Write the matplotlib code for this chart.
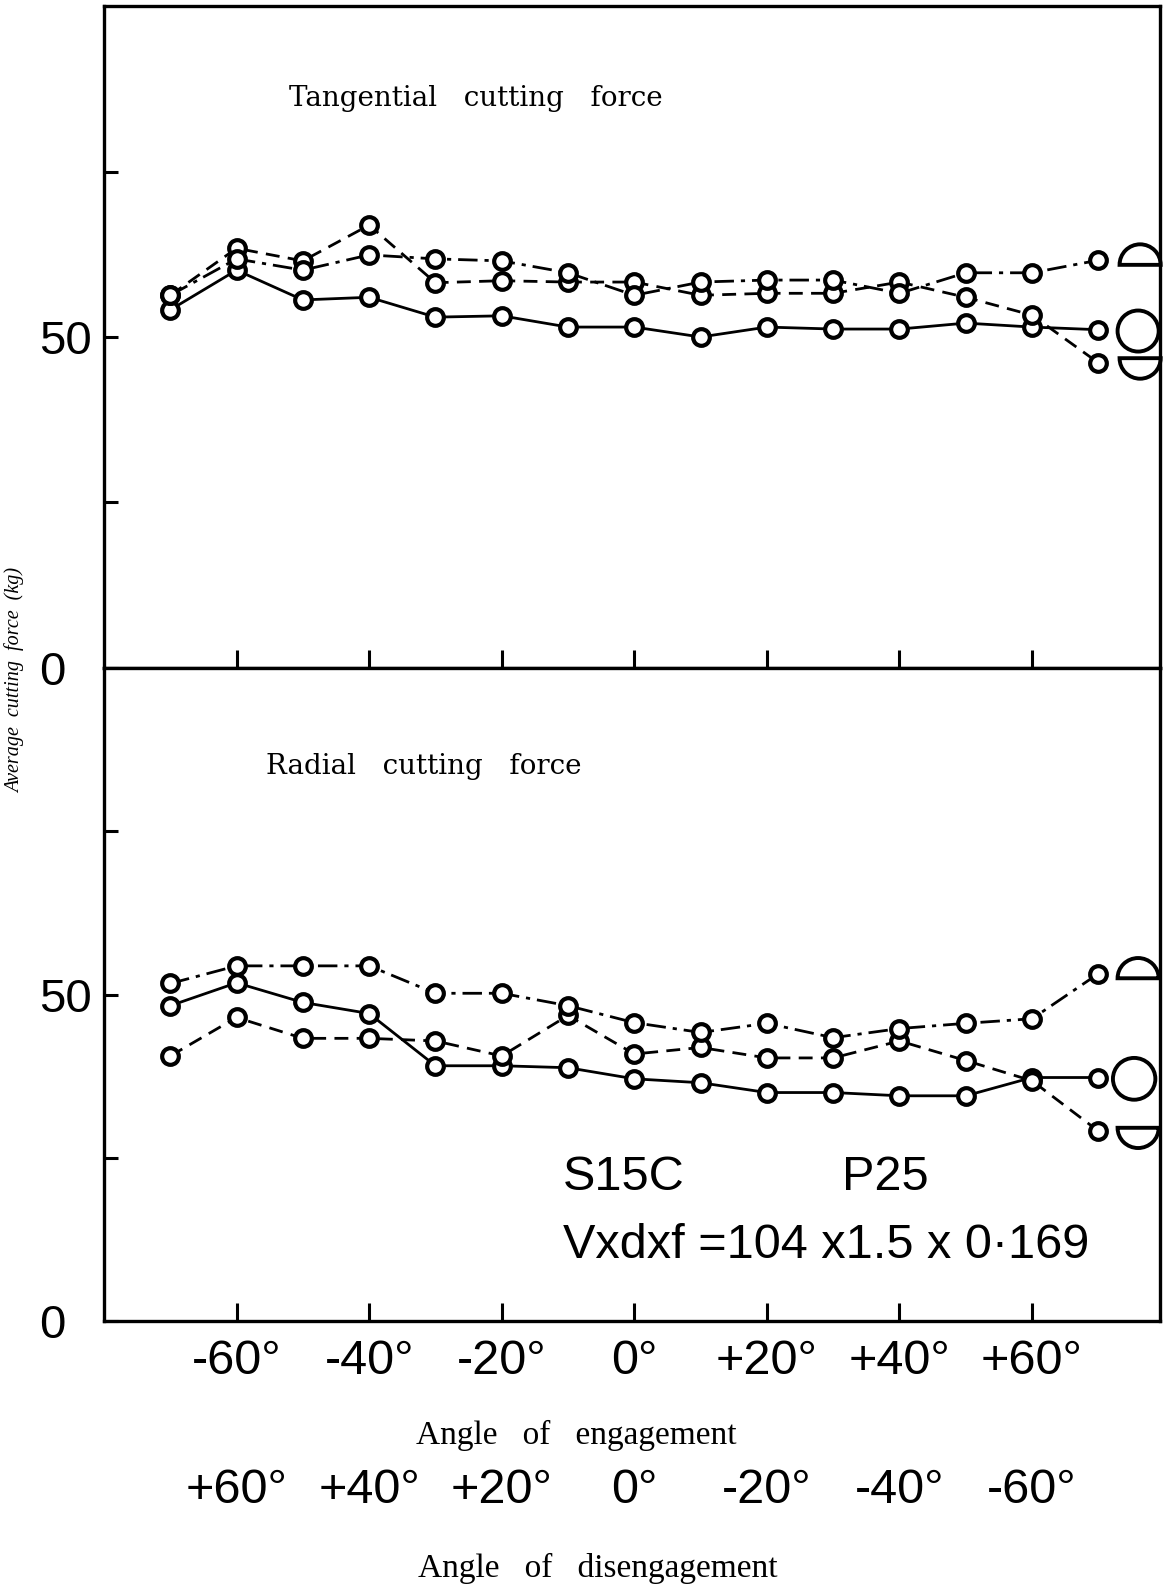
import matplotlib
matplotlib.use('Agg')
import matplotlib.pyplot as plt
from matplotlib import font_manager
from matplotlib.font_manager import FontProperties
from matplotlib.patches import Wedge, Circle
from matplotlib.transforms import blended_transform_factory

# angle of engagement (deg) at which forces were measured
angles = [-70, -60, -50, -40, -30, -20, -10, 0, 10, 20, 30, 40, 50, 60, 70]

# tangential cutting force (kg)
tang_solid = [54.1, 60.1, 55.6, 56.0, 53.0, 53.2, 51.5, 51.5, 50.0, 51.5, 51.2, 51.2, 52.1, 51.5, 51.1]
tang_dashed = [56.3, 63.4, 61.5, 66.9, 58.2, 58.5, 58.3, 58.3, 56.3, 56.6, 56.6, 58.3, 56.0, 53.3, 46.1]
tang_dashdot = [56.3, 61.8, 60.1, 62.4, 61.8, 61.5, 59.7, 56.3, 58.3, 58.6, 58.6, 56.6, 59.7, 59.7, 61.6]

# radial cutting force (kg)
rad_solid = [48.3, 51.8, 48.8, 47.1, 39.1, 39.1, 38.8, 37.1, 36.5, 35.0, 35.0, 34.5, 34.5, 37.3, 37.3]
rad_dashed = [40.6, 46.5, 43.3, 43.3, 42.9, 40.6, 46.8, 40.9, 41.9, 40.3, 40.3, 42.9, 39.9, 36.8, 29.1]
rad_dashdot = [51.7, 54.4, 54.4, 54.4, 50.2, 50.2, 48.3, 45.7, 44.2, 45.6, 43.4, 44.8, 45.6, 46.3, 53.2]

engage_ticks = [-60, -40, -20, 0, 20, 40, 60]
engage_labels = ['-60°', '-40°', '-20°', '0°', '+20°', '+40°', '+60°']
disengage_labels = ['+60°', '+40°', '+20°', '0°', '-20°', '-40°', '-60°']
force_ticks = [0, 50]
force_labels = ['0', '50']


def pick_font(names, default):
    for n in names:
        try:
            font_manager.findfont(FontProperties(family=n), fallback_to_default=False)
            return n
        except ValueError:
            pass
    return default


sans = pick_font(['Liberation Sans', 'Arial'], 'DejaVu Sans')
serif = pick_font(['Liberation Serif', 'Times New Roman'], 'DejaVu Serif')
xtick_fp = FontProperties(family=sans, size=35)

plt.rcParams['lines.scale_dashes'] = False

fig = plt.figure(figsize=(11.67, 15.84), dpi=100)
ax_top = fig.add_axes([0.0891, 0.5783, 0.9049, 0.4179])
ax_bot = fig.add_axes([0.0891, 0.1660, 0.9049, 0.4122])

styles = ['-', (0, (10, 6)), (0, (14, 5, 3, 5))]

for ax, series in ((ax_top, (tang_solid, tang_dashed, tang_dashdot)),
                   (ax_bot, (rad_solid, rad_dashed, rad_dashdot))):
    for vals, ls in zip(series, styles):
        ax.plot(angles, vals, color='black', lw=2.0, linestyle=ls,
                marker='o', ms=12, mfc='white', mec='black', mew=3.0)
    ax.set_xlim(-80, 79.3)
    ax.set_ylim(0, 100)
    ax.set_xticks(engage_ticks)
    ax.set_yticks(force_ticks)
    ax.set_yticks([25, 75], minor=True)
    ax.set_yticklabels(force_labels, fontsize=34, family=sans)
    for lab in ax.get_yticklabels():
        lab.set_horizontalalignment('left')
    ax.tick_params(axis='x', direction='in', length=13, width=2.2)
    ax.tick_params(axis='y', which='both', direction='in', length=10, width=2.2, pad=47)
    for sp in ax.spines.values():
        sp.set_linewidth(2.4)

ax_top.set_xticklabels([])
ax_bot.set_xticklabels(engage_labels, fontproperties=xtick_fp)
ax_bot.tick_params(axis='x', pad=13)

# tool-shape symbols next to curve ends
ax_top.add_patch(Wedge((76.3, 60.9), 3.1, 0, 180, fill=False, lw=2.8, clip_on=False))
ax_top.add_patch(Circle((76.0, 50.9), 3.1, fill=False, lw=2.8, clip_on=False))
ax_top.add_patch(Wedge((76.3, 46.8), 3.1, 180, 360, fill=False, lw=2.8, clip_on=False))
ax_bot.add_patch(Wedge((76.0, 52.5), 3.1, 0, 180, fill=False, lw=2.8, clip_on=False))
ax_bot.add_patch(Circle((75.4, 37.1), 3.2, fill=False, lw=2.8, clip_on=False))
ax_bot.add_patch(Wedge((76.0, 29.6), 3.1, 180, 360, fill=False, lw=2.8, clip_on=False))

# second row of tick labels: angle of disengagement
trans = blended_transform_factory(ax_bot.transData, ax_bot.transAxes)
for x, lab in zip(engage_ticks, disengage_labels):
    ax_bot.text(x, -0.259, lab, transform=trans, ha='center', va='center',
                fontproperties=xtick_fp)

W, H = 1167, 1584
fig.text(476 / W, 1 - 98 / H, 'Tangential   cutting   force', ha='center', va='center',
         fontsize=20, family='DejaVu Serif')
fig.text(424 / W, 1 - 766 / H, 'Radial   cutting   force', ha='center', va='center',
         fontsize=20, family='DejaVu Serif')
fig.text(15 / W, 1 - 680 / H, 'Average  cutting  force  (kg)', rotation=90, ha='center',
         va='center', fontsize=14.5, family=serif, style='italic')
fig.text(576 / W, 1 - 1435 / H, 'Angle   of   engagement', ha='center', va='center',
         fontsize=24, family=serif)
fig.text(598 / W, 1 - 1568 / H, 'Angle   of   disengagement', ha='center', va='center',
         fontsize=24, family=serif)
fig.text(563 / W, 1 - 1177 / H, 'S15C', ha='left', va='center', fontsize=35, family=sans)
fig.text(842 / W, 1 - 1177 / H, 'P25', ha='left', va='center', fontsize=35, family=sans)
fig.text(563 / W, 1 - 1245 / H, 'Vxdxf =104 x1.5 x 0·169', ha='left', va='center',
         fontsize=35, family=sans)

fig.savefig('out.png', dpi=100)
